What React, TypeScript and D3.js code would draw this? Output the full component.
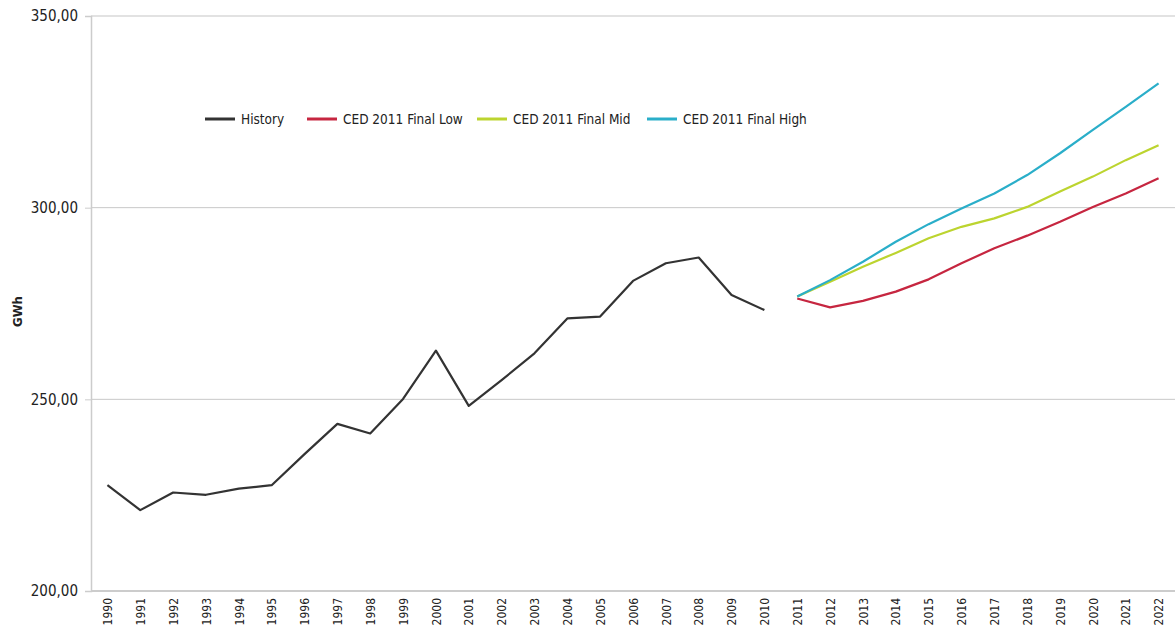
import React, { useEffect, useRef } from 'react';
import * as d3 from 'd3';

const years = d3.range(1990, 2023).map(String);
const yTicks = [200, 250, 300, 350];

const historyYears = years.slice(0, 21);
const historyValues = [
  227.6, 221.1, 225.7, 225.1, 226.7, 227.6, 235.7, 243.6, 241.1, 250.1,
  262.7, 248.3, 255.0, 262.0, 271.1, 271.6, 280.9, 285.5, 287.0, 277.2, 273.3,
];

const forecastYears = years.slice(21);
const lowValues = [276.3, 274.0, 275.7, 278.1, 281.3, 285.5, 289.4, 292.7, 296.3, 300.2, 303.7, 307.7];
const midValues = [276.8, 280.7, 284.6, 288.2, 292.0, 295.0, 297.2, 300.2, 304.2, 308.1, 312.4, 316.3];
const highValues = [276.8, 281.1, 285.9, 291.1, 295.7, 299.8, 303.7, 308.5, 314.2, 320.3, 326.3, 332.4];

const series = [
  { name: 'History', color: '#333333', years: historyYears, values: historyValues },
  { name: 'CED 2011 Final Low', color: '#c62640', years: forecastYears, values: lowValues },
  { name: 'CED 2011 Final Mid', color: '#bcd42f', years: forecastYears, values: midValues },
  { name: 'CED 2011 Final High', color: '#2aaec9', years: forecastYears, values: highValues },
];

const font = "'Liberation Sans Narrow', 'DejaVu Sans Condensed', 'Roboto', sans-serif";

const App = () => {
  const svgRef = useRef<SVGSVGElement>(null);

  useEffect(() => {
    const width = 1175;
    const height = 638;
    const marginTop = 16;
    const marginRight = 0;
    const marginBottom = 47;
    const marginLeft = 91;

    const svg = d3.select(svgRef.current);
    svg.selectAll('*').remove();

    const x = d3.scalePoint<string>()
      .domain(years)
      .range([marginLeft, width - marginRight])
      .padding(0.5);

    const y = d3.scaleLinear()
      .domain([200, 350])
      .range([height - marginBottom, marginTop]);

    // gridlines
    svg.append('g')
      .selectAll('line')
      .data(yTicks.slice(1))
      .join('line')
      .attr('x1', marginLeft)
      .attr('x2', width - marginRight)
      .attr('y1', (d) => y(d))
      .attr('y2', (d) => y(d))
      .attr('stroke', (d) => (d === 350 ? '#e2e2e2' : '#c8c8c8'))
      .attr('stroke-width', (d) => (d === 350 ? 2 : 1));

    // y axis
    svg.append('g')
      .attr('transform', `translate(${marginLeft},0)`)
      .call(d3.axisLeft(y).tickValues(yTicks).tickSize(6).tickFormat((d) => d3.format('.2f')(d as number).replace('.', ',')))
      .call((g) => g.select('.domain').attr('stroke', '#cccccc').attr('stroke-width', 1.5))
      .call((g) => g.selectAll('.tick line').attr('stroke', '#cccccc'))
      .call((g) => g.selectAll('.tick text')
        .attr('x', -13)
        .attr('fill', '#222')
        .attr('font-family', font)
        .attr('font-size', 15));

    // x axis
    svg.append('g')
      .attr('transform', `translate(0,${height - marginBottom})`)
      .call(d3.axisBottom(x).tickSize(0).tickSizeOuter(0))
      .call((g) => g.select('.domain')
        .attr('d', `M${marginLeft},0H${width - marginRight}`)
        .attr('stroke', '#cccccc')
        .attr('stroke-width', 2))
      .call((g) => g.selectAll('.tick text')
        .attr('transform', 'rotate(-90)')
        .attr('text-anchor', 'end')
        .attr('dy', '0.35em')
        .attr('x', -7)
        .attr('y', 0)
        .attr('fill', '#222')
        .attr('font-family', font)
        .attr('font-size', 12));

    // y label
    svg.append('text')
      .attr('transform', `translate(22,${(marginTop + height - marginBottom) / 2 + 8}) rotate(-90)`)
      .attr('text-anchor', 'middle')
      .attr('font-family', font)
      .attr('font-weight', 'bold')
      .attr('font-size', 13)
      .attr('fill', '#222')
      .text('GWh');

    // lines
    const line = d3.line<[string, number]>()
      .x((d) => x(d[0]) as number)
      .y((d) => y(d[1]));

    svg.append('g')
      .selectAll('path')
      .data(series)
      .join('path')
      .attr('fill', 'none')
      .attr('stroke', (d) => d.color)
      .attr('stroke-width', 2.2)
      .attr('stroke-linejoin', 'round')
      .attr('d', (d) => line(d.years.map((yr, i) => [yr, d.values[i]] as [string, number])));

    // legend
    const legendX = [205, 307, 477, 647];
    const legend = svg.append('g')
      .selectAll('g')
      .data(series)
      .join('g')
      .attr('transform', (d, i) => `translate(${legendX[i]},119)`);
    legend.append('line')
      .attr('x1', 0)
      .attr('x2', 30)
      .attr('stroke', (d) => d.color)
      .attr('stroke-width', 3);
    legend.append('text')
      .attr('x', 36)
      .attr('dy', '0.35em')
      .attr('font-family', font)
      .attr('font-size', 13.5)
      .attr('fill', '#222')
      .text((d) => d.name);
  }, []);

  return (
    <svg
      ref={svgRef}
      width={1175}
      height={638}
      style={{ position: 'absolute', left: 0, top: 0, background: '#fff' }}
    />
  );
};

export default App;
